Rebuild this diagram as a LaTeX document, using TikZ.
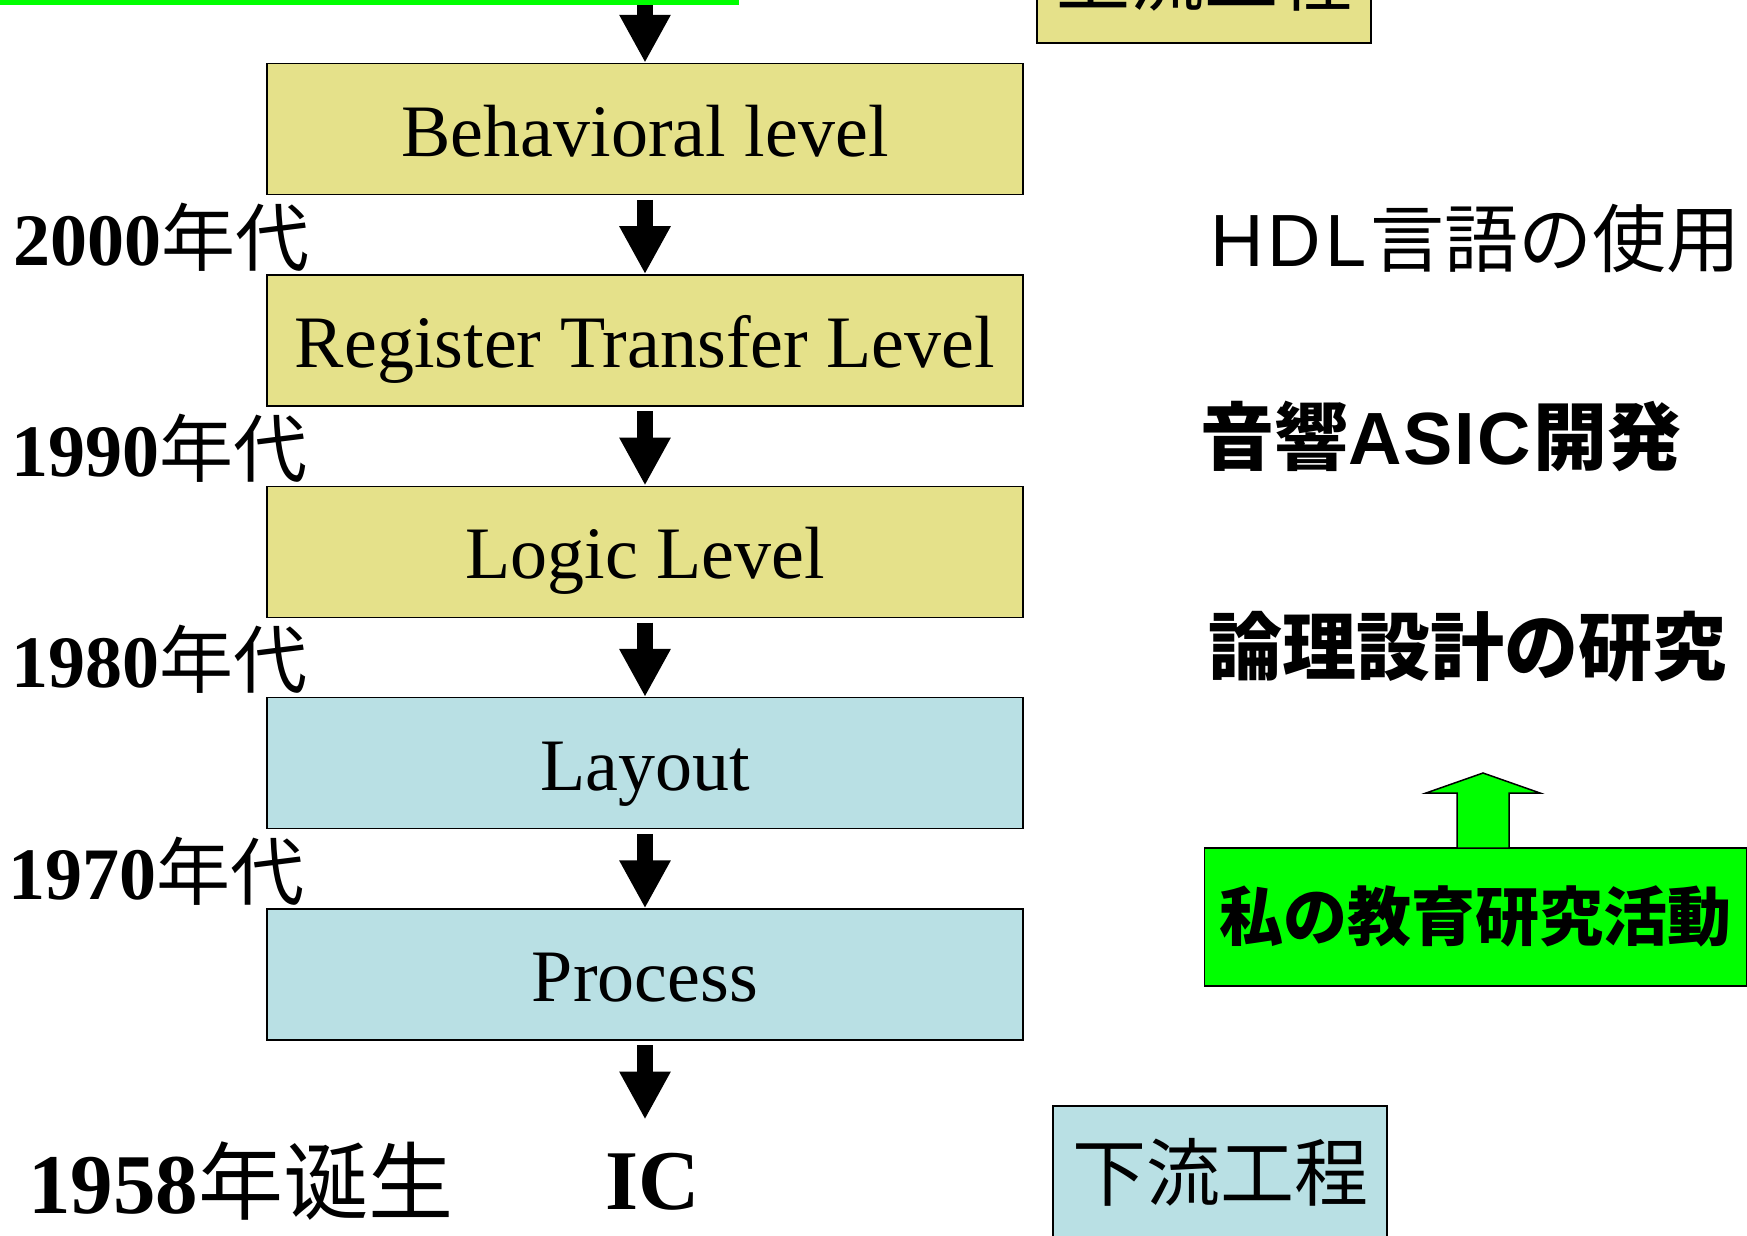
\documentclass[tikz,border=0pt]{standalone}
\usepackage{fontspec}
\setmainfont{Liberation Serif}
\newfontfamily\jpfont{Noto Sans CJK JP}
\newfontfamily\scfont{Noto Sans CJK SC}
\newfontfamily\latinsans{Liberation Sans}
\usetikzlibrary{arrows.meta}
\definecolor{boxyellow}{RGB}{229,225,138}
\definecolor{boxblue}{RGB}{185,224,228}
\definecolor{brightgreen}{RGB}{0,255,0}
\begin{document}
\begin{tikzpicture}[x=1pt,y=-1pt,
  level/.style={draw=black, line width=1.5pt, minimum width=756pt, minimum height=131pt,
    inner sep=0pt, text height=57pt, text depth=3pt, font=\fontsize{74}{80}\selectfont},
  yellowlevel/.style={level, fill=boxyellow},
  bluelevel/.style={level, fill=boxblue},
  flowarrow/.style={line width=16pt, -{Triangle[width=48pt,length=48pt]}, shorten <=4.5pt},
  yearlabel/.style={anchor=base west, inner sep=0pt, font=\fontsize{74}{80}\selectfont\bfseries},
  stagebox/.style={draw=black, line width=2pt, minimum width=334pt, minimum height=132pt,
    inner sep=0pt, font=\fontsize{74}{80}\selectfont\jpfont},
  righttext/.style={anchor=base west, inner sep=0pt, font=\fontsize{74}{80}\selectfont\jpfont},
  blockarrow/.style={fill=brightgreen, draw=black, line width=1.5pt, line join=miter}
]
\useasboundingbox (0,0) rectangle (1747,1235);
\clip (0,0) rectangle (1747,1235);
\fill[white] (0,0) rectangle (1747,1235);

% top green bar (cut off)
\node[fill=brightgreen, minimum width=739pt, minimum height=40pt, anchor=south west, inner sep=0pt] (topbar) at (0,5) {};

% level boxes
\node[yellowlevel] (behav) at (645,129) {Behavioral level};
\node[yellowlevel] (rtl) at (645,340.4) {Register Transfer Level};
\node[yellowlevel] (logic) at (645,551.8) {Logic Level};
\node[bluelevel] (layout) at (645,763.2) {Layout};
\node[bluelevel] (process) at (645,974.6) {Process};

\node[anchor=base, inner xsep=0pt, inner ysep=33pt, font=\fontsize{85}{90}\selectfont\bfseries] (ic) at (653,1209) {IC};

% arrows
\draw[flowarrow, shorten <=0pt] (behav.north |- topbar.south) -- (behav.north);
\draw[flowarrow] (behav.south) -- (rtl.north);
\draw[flowarrow] (rtl.south) -- (logic.north);
\draw[flowarrow] (logic.south) -- (layout.north);
\draw[flowarrow] (layout.south) -- (process.north);
\draw[flowarrow] (process.south) -- (process.south |- ic.north);

% year labels
\node[yearlabel] (y2000) at (13,265) {2000{\scfont\mdseries 年代}};
\node[yearlabel] (y1990) at (11,476.4) {1990{\scfont\mdseries 年代}};
\node[yearlabel] (y1980) at (11,687.8) {1980{\scfont\mdseries 年代}};
\node[yearlabel] (y1970) at (8,899.2) {1970{\scfont\mdseries 年代}};
\node[yearlabel, font=\fontsize{85}{90}\selectfont\bfseries] (born) at (28,1213) {1958{\scfont\mdseries 年诞生}};

% stage boxes
\node[stagebox, fill=boxyellow] (upper) at (1204,-23) {上流工程};
\node[stagebox, fill=boxblue] (lower) at (1220,1172) {下流工程};

% right texts
\node[righttext] (hdl) at (1210,266) {{\latinsans H\kern4pt D\kern4pt L}\kern4pt 言語の使用};
\node[righttext, font=\fontsize{74}{80}\selectfont\jpfont\bfseries] (asic) at (1200,464) {音響{\latinsans A\kern2pt S\kern2pt I\kern2pt C}\kern2pt 開発};
\node[righttext, font=\fontsize{74}{80}\selectfont\jpfont\bfseries] (ronri) at (1208,674) {論理設計の研究};

% my activity box
\node[fill=brightgreen, draw=black, line width=1.5pt, anchor=west, minimum height=138pt,
  inner xsep=15pt, inner ysep=0pt, text height=50pt, text depth=4pt,
  font=\fontsize{64}{70}\selectfont\jpfont\bfseries] (mywork) at (1203.5,917) {私の教育研究活動};

% block arrow up from activity box
\coordinate (upbase) at (1482.5,848);
\draw[blockarrow] (upbase) ++(-25.5,0) -- ++(0,-55) -- ++(-31,0) -- ++(57,-20) -- ++(57,20) -- ++(-31,0) -- ++(0,55) -- cycle;
\end{tikzpicture}
\end{document}
